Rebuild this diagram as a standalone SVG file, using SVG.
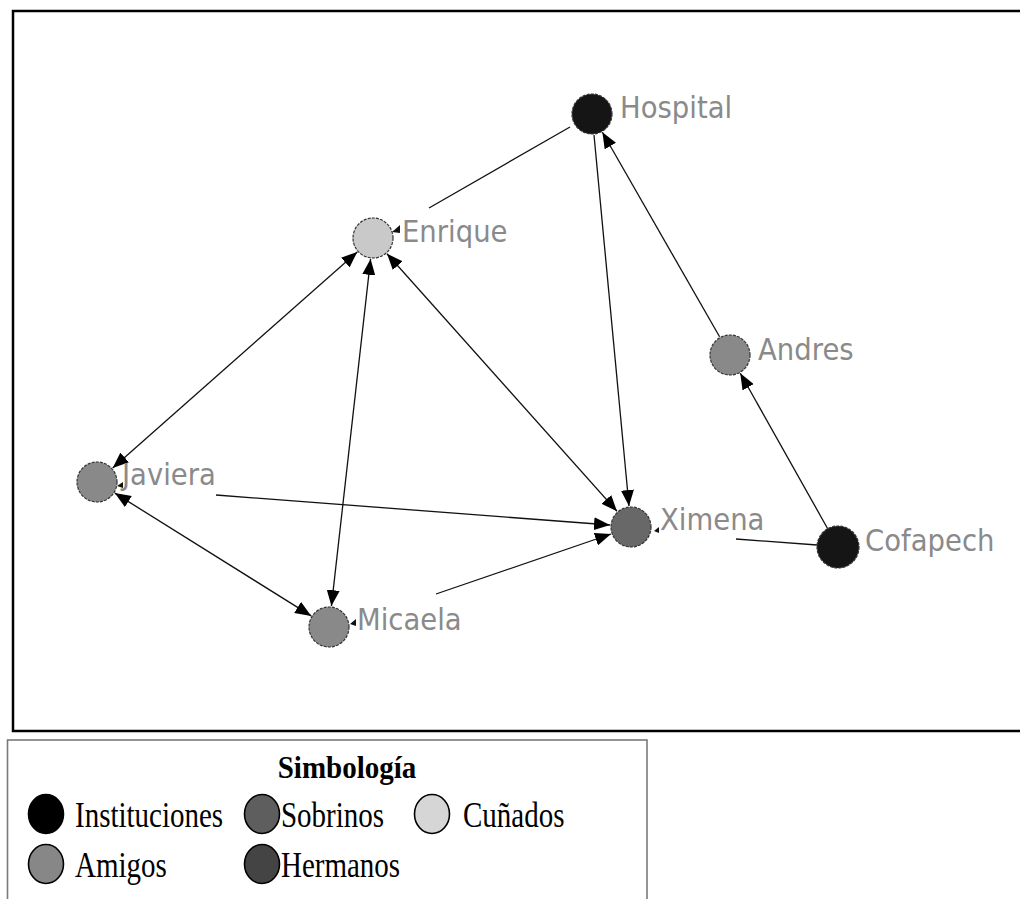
<svg xmlns="http://www.w3.org/2000/svg" width="1020" height="899" viewBox="0 0 1020 899">
  <style>
    .edge { stroke: #111; stroke-width: 1.3; fill: none; }
    .node { stroke: #333; stroke-width: 1.2; stroke-dasharray: 3 1.2; }
    .inst { fill: #151515; }
    .cun { fill: #c9c9c9; }
    .ami { fill: #898989; }
    .sob { fill: #686868; }
    .lbl { font-family: "DejaVu Sans", Verdana, sans-serif; font-size: 27.5px; fill: #8a8a8a; }
    .loop { fill: #111; }
    .leg { font-family: "Liberation Serif", "Times New Roman", serif; font-size: 29px; fill: #000; }
    .legc { stroke: #000; stroke-width: 1.6; }
  </style>
  <defs>
    <marker id="arrow" markerUnits="userSpaceOnUse" markerWidth="17" markerHeight="13" refX="16" refY="6.5" orient="auto-start-reverse">
      <path d="M0,0 L16,6.5 L0,13 z" fill="#000"/>
    </marker>
  </defs>

  <rect width="1020" height="899" fill="#fff"/>

  <!-- frame of the network -->
  <rect x="13" y="11" width="1030" height="720" fill="none" stroke="#000" stroke-width="2.5"/>

  <g id="connectors">
    <line class="edge" x1="570" y1="127" x2="429" y2="208"/>
    <line class="edge" x1="594" y1="135" x2="629" y2="506" marker-end="url(#arrow)"/>
    <line class="edge" x1="719.6" y1="336.8" x2="602.4" y2="132.2" marker-end="url(#arrow)"/>
    <line class="edge" x1="827.7" y1="528.7" x2="740.3" y2="373.3" marker-end="url(#arrow)"/>
    <line class="edge" x1="817" y1="545" x2="736" y2="539"/>
    <line class="edge" x1="357.3" y1="251.9" x2="112.7" y2="468.1" marker-start="url(#arrow)" marker-end="url(#arrow)"/>
    <line class="edge" x1="370.6" y1="258.9" x2="331.4" y2="606.1" marker-start="url(#arrow)" marker-end="url(#arrow)"/>
    <line class="edge" x1="387" y1="253.7" x2="617" y2="511.3" marker-start="url(#arrow)" marker-end="url(#arrow)"/>
    <line class="edge" x1="114.8" y1="493.1" x2="311.2" y2="615.9" marker-start="url(#arrow)" marker-end="url(#arrow)"/>
    <line class="edge" x1="216" y1="495" x2="610" y2="525" marker-end="url(#arrow)"/>
    <line class="edge" x1="436" y1="594" x2="611" y2="534" marker-end="url(#arrow)"/>
    <!-- short self-loop tips -->
    <polygon class="loop" points="392,232 400,225 400,233"/>
    <polygon class="loop" points="117,486 123,482 123,488"/>
    <polygon class="loop" points="350,624 356,619 356,626"/>
    <polygon class="loop" points="654,531 659,527 659,533"/>
  </g>

  <g id="node-hospital">
    <circle class="node inst" cx="592" cy="114" r="20"/>
    <text class="lbl" transform="translate(620,118) scale(1,1.12)">Hospital</text>
  </g>
  <g id="node-enrique">
    <circle class="node cun" cx="373" cy="238" r="20"/>
    <text class="lbl" transform="translate(402,242) scale(1,1.12)">Enrique</text>
  </g>
  <g id="node-andres">
    <circle class="node ami" cx="730" cy="355" r="20"/>
    <text class="lbl" transform="translate(758,360) scale(1,1.12)">Andres</text>
  </g>
  <g id="node-javiera">
    <circle class="node ami" cx="97" cy="482" r="20"/>
    <text class="lbl" transform="translate(122,485) scale(1,1.12)">Javiera</text>
  </g>
  <g id="node-ximena">
    <circle class="node sob" cx="631" cy="527" r="20"/>
    <text class="lbl" transform="translate(660,530) scale(1,1.12)">Ximena</text>
  </g>
  <g id="node-cofapech">
    <circle class="node inst" cx="838" cy="547" r="21"/>
    <text class="lbl" transform="translate(865,551) scale(1,1.12)">Cofapech</text>
  </g>
  <g id="node-micaela">
    <circle class="node ami" cx="329" cy="627" r="20"/>
    <text class="lbl" transform="translate(357,630) scale(1,1.12)">Micaela</text>
  </g>

  <g id="legend">
    <rect x="7.5" y="740" width="639.5" height="200" fill="#fff" stroke="#7a7a7a" stroke-width="1.6"/>
    <text class="leg" transform="translate(347,778) scale(1,1.1)" text-anchor="middle" font-weight="bold" font-size="28">Simbología</text>
    <ellipse class="legc" cx="46" cy="814" rx="17.5" ry="19.5" fill="#000"/>
    <text class="leg" transform="translate(75,827) scale(1,1.25)">Instituciones</text>
    <ellipse class="legc" cx="262" cy="814" rx="17.5" ry="19.5" fill="#5e5e5e"/>
    <text class="leg" transform="translate(281,827) scale(1,1.25)">Sobrinos</text>
    <ellipse class="legc" cx="432" cy="814" rx="17.5" ry="19.5" fill="#d6d6d6"/>
    <text class="leg" transform="translate(463,827) scale(1,1.25)">Cuñados</text>
    <ellipse class="legc" cx="46" cy="864" rx="17.5" ry="19.5" fill="#878787"/>
    <text class="leg" transform="translate(75,877) scale(1,1.25)">Amigos</text>
    <ellipse class="legc" cx="262" cy="864" rx="17.5" ry="19.5" fill="#444"/>
    <text class="leg" transform="translate(281,877) scale(1,1.25)">Hermanos</text>
  </g>
</svg>
